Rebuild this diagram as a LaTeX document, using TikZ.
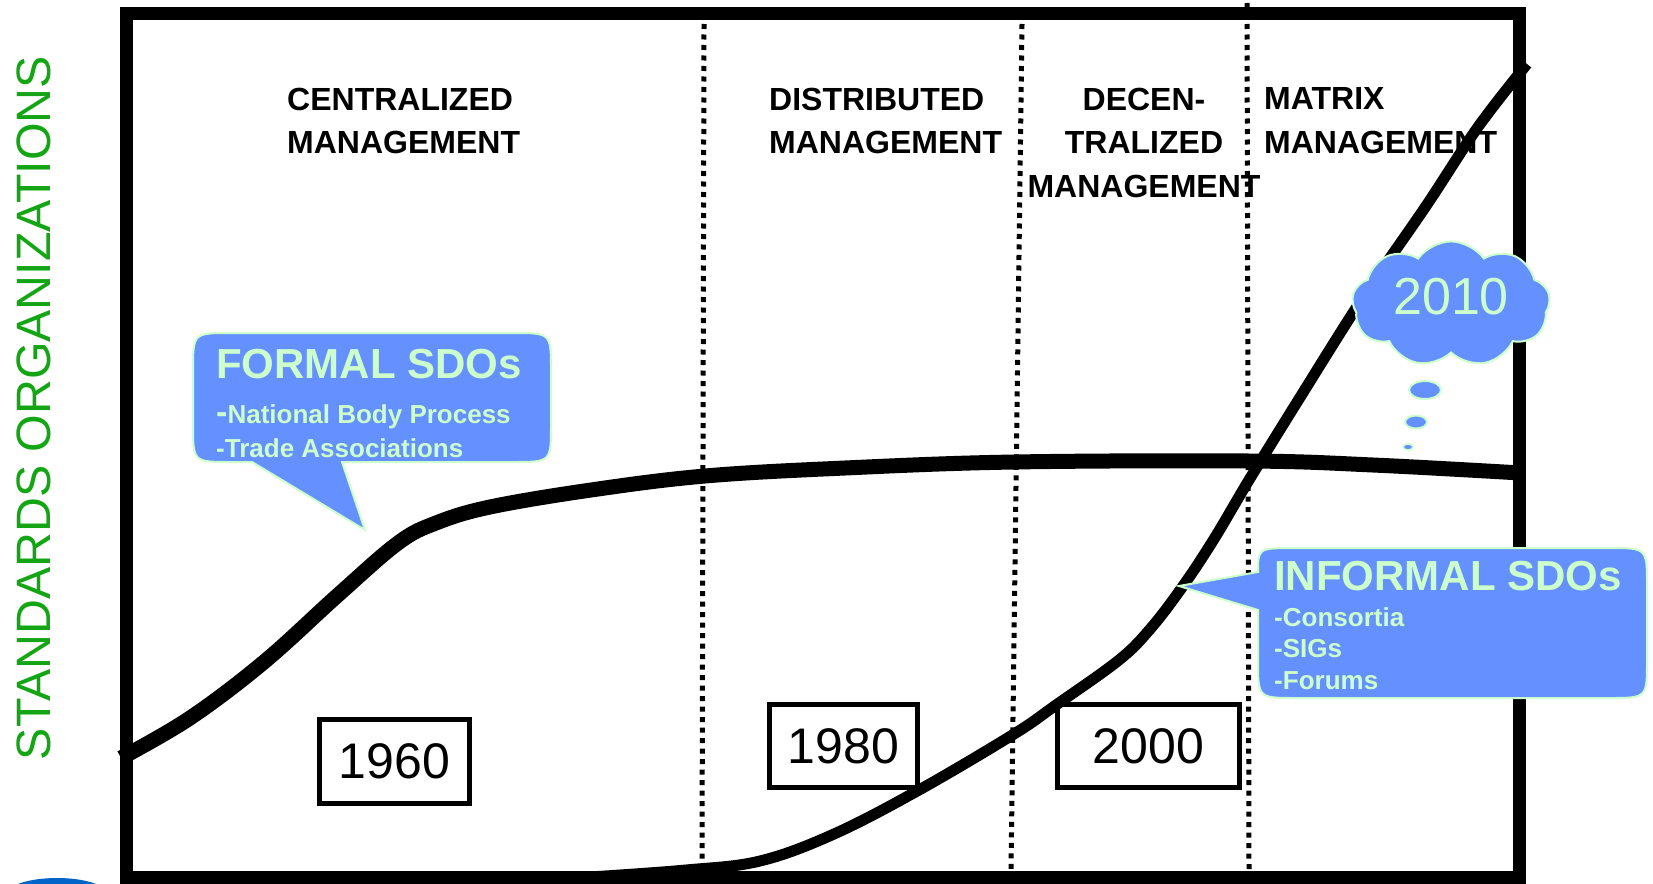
\documentclass[tikz,border=0pt]{standalone}
\usepackage{fontspec}
\setmainfont{Liberation Sans}
\usetikzlibrary{shapes.symbols}

\definecolor{sdoblue}{RGB}{100,145,255}
\definecolor{sdopale}{RGB}{204,255,204}
\definecolor{labelgreen}{RGB}{20,165,20}
\definecolor{logoblue}{RGB}{0,100,200}

\tikzset{
	header/.style={font=\bfseries\fontsize{32}{43.5}\selectfont, inner sep=0pt},
	yearbox/.style={draw, line width=5pt, minimum height=83pt, inner sep=0pt, font=\fontsize{50}{50}\selectfont},
	sdo/.style={fill=sdoblue, draw=sdopale, line width=2pt},
	sdotitle/.style={text=sdopale, font=\bfseries\fontsize{42}{42}\selectfont, inner sep=0pt, anchor=base west},
	sdoitem/.style={text=sdopale, font=\bfseries\fontsize{26}{34}\selectfont, inner sep=0pt, align=left, anchor=north west},
	era/.style={line width=5pt, dash pattern=on 5pt off 5.5pt},
}

\begin{document}
\begin{tikzpicture}[x=1pt, y=-1pt]
	\useasboundingbox (0,0) rectangle (1653,883);
	
	%%%%% FRAME %%%%%
	\fill[logoblue] (57,894) ellipse [x radius=50pt, y radius=16pt];
	\draw[line width=13pt] (126.5,14) rectangle (1519,877);
	
	\draw[era] (704,24) -- (702,871);
	\draw[era] (1022,24) -- (1011,871);
	\draw[era] (1247,3) -- (1249,871);
	
	%%%%% CURVES %%%%%
	\draw[line width=15pt] plot[smooth, tension=0.6] coordinates {(121,758) (190,718) (264,662) (338,595) (398,543) (436,523) (490,507) (591,490) (705,476) (845,468) (1014,462) (1249,461) (1373,465) (1521,473)};
	\draw[line width=11pt] plot[smooth, tension=0.6] coordinates {(590,877) (686,870) (760,861) (834,834) (919,790) (1014,734) (1056,705) (1119,660) (1151,628) (1183,586) (1214,539) (1249,480) (1299,399) (1362,299) (1426,206) (1478,127) (1527,64)};
	
	%%%%% YEARS %%%%%
	\node[yearbox, minimum width=150pt, minimum height=84pt] (y1960) at (394.5,761.5) {1960};
	\node[yearbox, minimum width=148pt] (y1980) at (843.5,746) {1980};
	\node[yearbox, minimum width=182pt] (y2000) at (1148.5,746) {2000};
	
	%%%%% HEADERS %%%%%
	\node[header, align=left, anchor=north west] (hcentral) at (287,87.5) {CENTRALIZED\\MANAGEMENT};
	\node[header, align=left, anchor=north west] (hdistrib) at (769,87.5) {DISTRIBUTED\\MANAGEMENT};
	\node[header, align=center, anchor=north] (hdecentral) at (1144,87.5) {DECEN-\\TRALIZED\\MANAGEMENT};
	\node[header, align=left, anchor=north west] (hmatrix) at (1264,87.5) {MATRIX\\MANAGEMENT};
	
	\node[rotate=90, text=labelgreen, font=\fontsize{48.3}{48.3}\selectfont, inner sep=0pt] (stdorg) at (34,408) {STANDARDS ORGANIZATIONS};
	
	%%%%% CALLOUTS %%%%%
	\draw[sdo] (252,462) -- (365,530) -- (342,462) -- (513,462) .. controls (551,462) .. (551,424) -- (551,371) .. controls (551,333) .. (513,333) -- (231,333) .. controls (193,333) .. (193,371) -- (193,424) .. controls (193,462) .. (231,462) -- cycle;
	\node[sdotitle] (formal) at (216,378) {FORMAL SDOs};
	\node[sdoitem] (formallist) at (216,404.4) {{\fontsize{34}{34}\selectfont -}National Body Process\\-Trade Associations};
	
	\draw[sdo] (1258,610) -- (1179,586) -- (1258,572) .. controls (1258,548) .. (1296,548) -- (1609,548) .. controls (1647,548) .. (1647,586) -- (1647,660) .. controls (1647,698) .. (1609,698) -- (1296,698) .. controls (1258,698) .. (1258,660) -- cycle;
	\node[sdotitle] (informal) at (1274,590) {INFORMAL SDOs};
	\node[sdoitem, font=\bfseries\fontsize{26}{31.5}\selectfont] (informallist) at (1274,607.4) {-Consortia\\-SIGs\\-Forums};
	
	%%%%% 2010 %%%%%
	\node[cloud, cloud puffs=9, cloud puff arc=110, aspect=1.6, minimum width=198pt, minimum height=122pt, sdo, text=sdopale, inner sep=0pt, text depth=16pt, font=\fontsize{52}{52}\selectfont] (c2010) at (1451,304) {2010};
	\draw[sdo] (1425,390) ellipse [x radius=16pt, y radius=9pt];
	\draw[sdo] (1416,422) ellipse [x radius=11pt, y radius=6.5pt];
	\draw[sdo, line width=1.5pt] (1408,447) ellipse [x radius=5pt, y radius=3pt];
\end{tikzpicture}
\end{document}
